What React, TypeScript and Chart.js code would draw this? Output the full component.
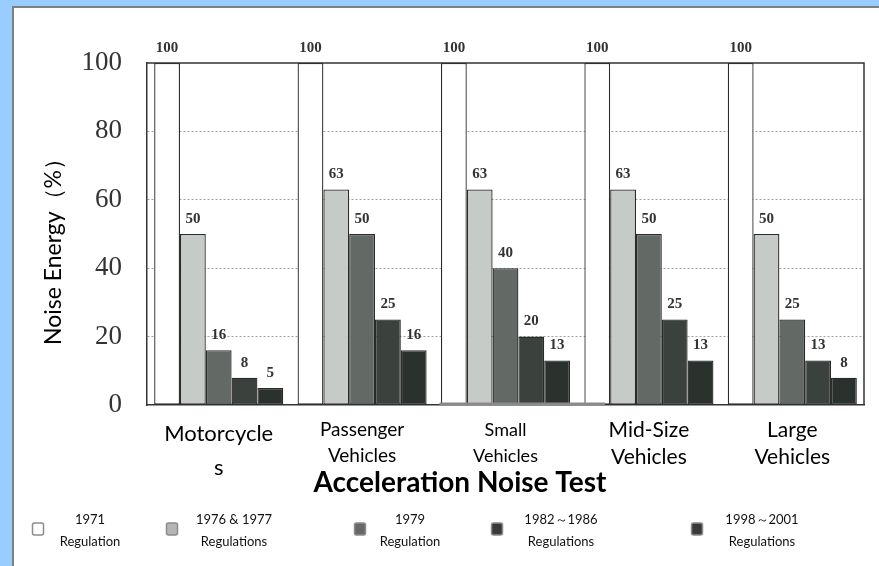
import React, { useEffect, useRef } from "react";
import { Chart, registerables } from "chart.js";

Chart.register(...registerables);

// ---- data ----
const categories: string[][] = [
  ["Motorcycle", "s"],
  ["Passenger", "Vehicles"],
  ["Small", "Vehicles"],
  ["Mid-Size", "Vehicles"],
  ["Large", "Vehicles"],
];
const seriesLabels: string[][] = [
  ["1971", "Regulation"],
  ["1976 & 1977", "Regulations"],
  ["1979", "Regulation"],
  ["1982～1986", "Regulations"],
  ["1998～2001", "Regulations"],
];
const reg1971 = [100, 100, 100, 100, 100];
const reg1976 = [50, 63, 63, 63, 50];
const reg1979 = [16, 50, 40, 50, 25];
const reg1982 = [8, 25, 20, 25, 13];
const reg1998 = [5, 16, 13, 13, 8];
const yTicks = [0, 20, 40, 60, 80, 100];
const xAxisTitle = "Acceleration Noise Test";
const yAxisTitle = "Noise Energy（%）";

// ---- styles ----
const barFills = ["#ffffff", "#c6cbc7", "#636965", "#3b413d", "#2b312d"];
const legendFills = ["#ffffff", "#b4b6b5", "#666866", "#383a39", "#383a39"];
const legendBoxX = [38, 172, 360, 497, 697];
const legendTextX = [90, 234, 410, 561, 762];
const tickSizes = [22, 19, 18, 21, 21];
const tickLineHeights = [34, 26, 26, 27, 27];
const SANS = "Lato, 'Open Sans', sans-serif";
const SERIF = "'Liberation Serif', 'DejaVu Serif', serif";

const overlayPlugin = {
  id: "overlay",
  afterDatasetsDraw(chart: any) {
    const { ctx, chartArea } = chart;
    const { left, right, top, bottom } = chartArea;
    ctx.save();
    // frame top & right
    ctx.strokeStyle = "#333";
    ctx.lineWidth = 1.5;
    ctx.beginPath();
    ctx.moveTo(left, top);
    ctx.lineTo(right, top);
    ctx.lineTo(right, bottom);
    ctx.stroke();

    // value labels
    ctx.fillStyle = "#333";
    ctx.font = `bold 15px ${SERIF}`;
    ctx.textAlign = "center";
    ctx.textBaseline = "middle";
    chart.data.datasets.forEach((ds: any, i: number) => {
      const meta = chart.getDatasetMeta(i);
      meta.data.forEach((bar: any, j: number) => {
        ctx.fillText(String(ds.data[j]), bar.x, bar.y - 15);
      });
    });

    // scan artefact line under "Small Vehicles"
    const xs = chart.scales.x;
    ctx.strokeStyle = "#8a8a8a";
    ctx.lineWidth = 3;
    ctx.beginPath();
    ctx.moveTo(xs.getPixelForValue(2) - 66, bottom - 1);
    ctx.lineTo(xs.getPixelForValue(3) - 44, bottom - 1);
    ctx.stroke();

    // y title
    ctx.save();
    ctx.translate(54, 246);
    ctx.rotate(-Math.PI / 2);
    ctx.fillStyle = "#000";
    ctx.font = `23px ${SANS}`;
    ctx.textAlign = "center";
    ctx.textBaseline = "middle";
    ctx.fillText(yAxisTitle, 0, 0);
    ctx.restore();

    // x title
    ctx.fillStyle = "#000";
    ctx.font = `bold 28px ${SANS}`;
    ctx.textAlign = "center";
    ctx.textBaseline = "middle";
    ctx.fillText(xAxisTitle, 460, 483);

    // legend
    chart.data.datasets.forEach((ds: any, i: number) => {
      const bx = legendBoxX[i];
      const by = 529;
      ctx.beginPath();
      if (ctx.roundRect) ctx.roundRect(bx - 5.5, by - 6, 11, 12, 2);
      else ctx.rect(bx - 5.5, by - 6, 11, 12);
      ctx.fillStyle = legendFills[i];
      ctx.fill();
      ctx.strokeStyle = "#8c8c8c";
      ctx.lineWidth = 1.5;
      ctx.stroke();
      ctx.fillStyle = "#111";
      ctx.font = `13px ${SANS}`;
      const lines = ds.label as string[];
      ctx.fillText(lines[0], legendTextX[i], 520);
      ctx.fillText(lines[1], legendTextX[i], 542);
    });
    ctx.restore();
  },
};

export default function App() {
  const ref = useRef<HTMLCanvasElement | null>(null);
  useEffect(() => {
    if (!ref.current) return;
    const series = [reg1971, reg1976, reg1979, reg1982, reg1998];
    const chart = new Chart(ref.current, {
      type: "bar",
      data: {
        labels: categories as any,
        datasets: series.map((d, i) => ({
          label: seriesLabels[i] as any,
          data: d,
          backgroundColor: barFills[i],
          borderColor: "#2a2a2a",
          borderWidth: 1.3,
          borderSkipped: false,
          categoryPercentage: 0.9,
          barPercentage: 1,
        })),
      },
      options: {
        responsive: false,
        animation: false,
        layout: { padding: { top: 63, right: 15, left: 0, bottom: 0 } },
        plugins: { legend: { display: false }, tooltip: { enabled: false } },
        scales: {
          x: {
            afterFit: (s: any) => {
              s.height = 161;
            },
            grid: { display: false, drawTicks: false },
            border: { display: true, color: "#333", width: 1.5 },
            ticks: {
              padding: 12,
              color: "#000",
              maxRotation: 0,
              autoSkip: false,
              font: (c: any) => ({
                family: SANS,
                size: tickSizes[c.index] ?? 18,
                lineHeight: `${tickLineHeights[c.index] ?? 26}px` as any,
              }),
            },
          },
          y: {
            min: 0,
            max: 100,
            afterFit: (s: any) => {
              s.width = 147;
            },
            afterBuildTicks: (s: any) => {
              s.ticks = yTicks.map((v) => ({ value: v }));
            },
            grid: {
              drawTicks: false,
              color: (c: any) =>
                c.tick && (c.tick.value === 0 || c.tick.value === 100) ? "rgba(0,0,0,0)" : "#a0a0a0",
              lineWidth: 1,
            },
            border: { display: true, color: "#333", width: 1.5, dash: [2, 2] },
            ticks: {
              padding: 25,
              color: "#333",
              font: { family: SERIF, size: 27 },
            },
          },
        },
      },
      plugins: [overlayPlugin],
    });
    return () => chart.destroy();
  }, []);

  return (
    <div
      style={{
        position: "absolute",
        left: 0,
        top: 0,
        width: 879,
        height: 566,
        background: "#99ccff",
        overflow: "hidden",
      }}
    >
      <div
        style={{
          position: "absolute",
          left: 12,
          top: 6,
          width: 900,
          height: 600,
          background: "#ffffff",
          borderLeft: "2px solid #7f7f7f",
          borderTop: "2px solid #7f7f7f",
        }}
      />
      <canvas
        ref={ref}
        width={879}
        height={566}
        style={{ position: "absolute", left: 0, top: 0, width: 879, height: 566 }}
      />
    </div>
  );
}
